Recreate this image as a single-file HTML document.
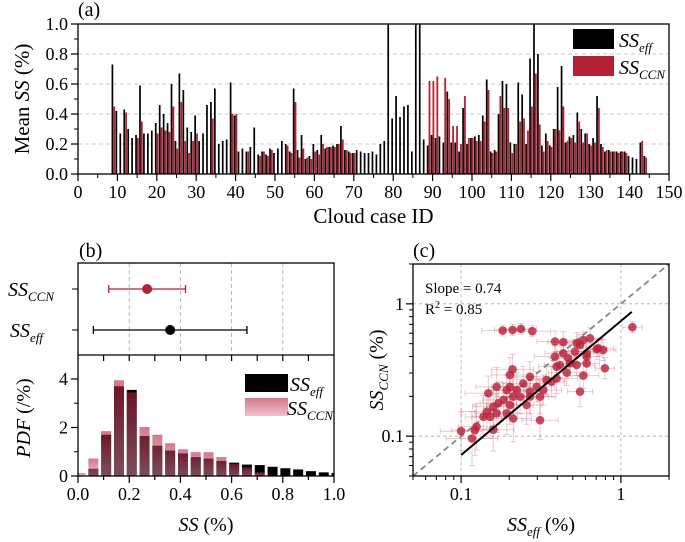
<!DOCTYPE html>
<html><head><meta charset="utf-8"><style>
html,body{margin:0;padding:0;background:#fff}
svg{display:block;font-family:"Liberation Serif",serif}
</style></head><body>
<svg id="fig" width="685" height="542" viewBox="0 0 685 542" xmlns="http://www.w3.org/2000/svg"></svg>
<script>
// ---- Panel (a) data ----
const caseIds=[9,10,11,12,13,14,15,16,17,18,19,20,21,22,23,24,25,26,27,28,29,30,31,32,33,34,35,36,37,38,39,40,41,42,43,44,45,46,47,48,49,50,51,52,53,54,55,56,57,58,59,60,61,62,63,64,65,66,67,68,69,70,71,72,73,74,75,76,77,78,79,80,81,82,83,84,85,86,87,88,89,90,91,92,93,94,95,96,97,98,99,100,101,102,103,104,105,106,107,108,109,110,111,112,113,114,115,116,117,118,119,120,121,122,123,124,125,126,127,128,129,130,131,132,133,134,135,136,137,138,139,140,141,142,143,144];
const ssEff=[0.73,0.42,0.27,0.43,0.30,0.24,0.26,0.59,0.27,0.27,0.29,0.34,0.46,0.40,0.34,0.60,0.22,0.67,0.56,0.31,0.28,0.39,0.22,0.27,0.46,0.48,0.57,0.20,0.22,0.23,0.61,0.39,0.15,0.17,0.15,0.18,0.31,0.13,0.15,0.13,0.17,0.14,0.17,0.22,0.20,0.15,0.57,0.16,0.26,0.10,0.12,0.20,0.16,0.26,0.17,0.18,0.19,0.20,0.32,0.16,0.15,0.14,0.16,0.15,0.14,0.14,0.15,0.13,0.20,0.22,1.2,0.37,0.52,0.38,0.45,0.46,0.15,1.2,1.2,0.23,0.19,0.26,0.24,0.25,0.21,0.55,0.21,0.21,0.15,0.44,0.20,0.24,0.25,0.26,0.39,0.63,0.15,0.16,0.40,0.62,0.60,0.21,0.20,0.61,0.53,0.20,0.77,1.2,0.80,0.19,0.27,0.19,0.30,0.58,0.72,0.21,0.25,0.26,0.41,0.30,0.27,0.20,0.24,0.52,0.20,0.15,0.16,0.15,0.15,0.15,0.15,0.12,0.11,0.10,0.21,0.12];
const ssCcn=[0.45,null,null,0.41,null,null,0.24,0.35,null,null,null,0.27,0.31,0.29,0.28,0.45,0.17,0.48,0.22,0.14,0.22,0.27,null,null,null,0.37,null,null,null,null,0.40,0.40,null,null,0.15,null,null,0.12,0.15,0.12,0.16,null,null,null,0.19,0.14,0.48,0.11,0.17,0.11,0.10,0.15,0.13,0.20,0.18,0.18,0.18,0.20,0.23,0.16,0.14,0.14,null,null,null,null,null,null,null,null,null,null,null,null,null,null,null,null,null,null,0.62,0.62,0.65,null,0.64,0.50,0.32,0.32,0.20,0.52,0.24,0.24,0.22,0.22,0.35,0.56,0.14,0.15,0.52,0.44,0.44,0.14,0.20,0.35,0.37,0.29,0.45,0.67,0.33,0.15,0.22,0.18,0.30,0.29,0.45,0.22,0.24,0.21,0.35,0.21,0.27,0.19,0.21,0.44,0.18,0.16,0.15,0.15,0.14,0.15,0.14,null,null,null,0.22,0.11];
const aYTicks=["0.0","0.2","0.4","0.6","0.8","1.0"];
const aXTicks=[0,10,20,30,40,50,60,70,80,90,100,110,120,130,140,150];
// ---- Panel (b) data ----
const bMeans=[0.27,0.36];
const bLow=[0.12,0.06];
const bHigh=[0.42,0.66];
const binCenters=[0.01,0.06,0.11,0.16,0.21,0.26,0.31,0.36,0.41,0.46,0.51,0.56,0.61,0.66,0.71,0.76,0.81,0.86,0.91,0.96,1.01];
const pdfEff=[0.02,0.30,1.70,3.70,3.55,1.65,1.25,1.05,0.93,0.78,0.72,0.62,0.55,0.47,0.45,0.38,0.32,0.27,0.20,0.15,0.12];
const pdfCcn=[0.12,0.72,1.85,3.95,3.45,2.02,1.70,1.35,1.10,0.98,0.98,0.78,0.50,0.35,0.15,0,0,0,0,0,0];
const bXTicks=["0.0","0.2","0.4","0.6","0.8","1.0"];
// ---- Panel (c) data ----
const cX=[0.182,0.210,0.237,0.279,1.18,0.387,0.436,0.582,0.641,0.555,0.721,0.775,0.516,0.611,0.387,0.468,0.415,0.611,0.529,0.794,0.582,0.458,0.396,0.343,0.555,0.210,0.202,0.270,0.297,0.245,0.223,0.193,0.167,0.148,0.212,0.184,0.202,0.171,0.159,0.145,0.152,0.167,0.193,0.212,0.257,0.270,0.312,0.312,0.159,0.125,0.122,0.117,0.100,0.138,0.234,0.202,0.270,0.327,0.368,0.480,0.396,0.611,0.706,0.529,0.436];
const cY=[0.628,0.635,0.647,0.621,0.666,0.519,0.513,0.533,0.549,0.489,0.461,0.448,0.436,0.423,0.399,0.388,0.345,0.355,0.345,0.326,0.287,0.302,0.273,0.266,0.217,0.320,0.290,0.281,0.236,0.250,0.223,0.223,0.236,0.211,0.199,0.188,0.172,0.177,0.167,0.153,0.140,0.149,0.149,0.136,0.172,0.199,0.199,0.132,0.112,0.118,0.111,0.096,0.109,0.140,0.199,0.236,0.217,0.223,0.258,0.355,0.335,0.399,0.454,0.504,0.423];
const cErrX=[0.35,0.3,0.25,0.3,0.15,0.3,0.25,0.3,0.2,0.35,0.25,0.2,0.3,0.25,0.35,0.3,0.25,0.2,0.3,0.15,0.25,0.3,0.35,0.3,0.2,0.35,0.3,0.25,0.3,0.35,0.4,0.3,0.35,0.4,0.3,0.35,0.4,0.3,0.35,0.45,0.3,0.35,0.4,0.3,0.25,0.3,0.25,0.3,0.35,0.3,0.4,0.45,0.35,0.3,0.25,0.3,0.25,0.3,0.2,0.25,0.3,0.2,0.15,0.25,0.3];
const cErrY=[0.1,0.1,0.1,0.1,0.1,0.2,0.2,0.15,0.2,0.2,0.15,0.2,0.2,0.25,0.2,0.2,0.25,0.2,0.2,0.2,0.25,0.25,0.3,0.3,0.3,0.3,0.35,0.3,0.3,0.35,0.35,0.3,0.4,0.35,0.4,0.35,0.4,0.45,0.4,0.35,0.45,0.4,0.45,0.5,0.4,0.35,0.35,0.4,0.45,0.5,0.55,0.6,0.4,0.45,0.35,0.3,0.3,0.3,0.3,0.25,0.3,0.2,0.2,0.2,0.25];
const fitX=[0.1,1.17];
const fitY=[0.072,0.87];

const NS="http://www.w3.org/2000/svg";
const svg=document.getElementById('fig');
function mk(tag,attrs,parent){const e=document.createElementNS(NS,tag);for(const k in attrs)e.setAttribute(k,attrs[k]);(parent||svg).appendChild(e);return e;}
function txt(s,x,y,size,anchor,parent){const t=mk('text',{x:x,y:y,'font-size':size,'text-anchor':anchor||'middle',fill:'#000'},parent);t.innerHTML=s;return t;}
const TF=18;

// ===== Panel (a) =====
const aL=78,aR=669,aT=24,aB=174;
const ax=v=>aL+(v/150)*(aR-aL);
const ay=v=>aB-(Math.min(v,1.0)/1.0)*(aB-aT);
const gA=mk('g',{});


for(let i=1;i<5;i++){const l=mk('line',{x1:aL,x2:aR,y1:ay(i*0.2),y2:ay(i*0.2),stroke:'#bbb','stroke-dasharray':'4,3','stroke-width':0.8},gA);

}
caseIds.forEach((id,i)=>{
  const v=ssEff[i];
  if(v!=null){const r=mk('rect',{x:ax(id)-1.9,y:ay(v),width:1.7,height:aB-ay(v),fill:'#000'},gA);
  
  }
  const c=ssCcn[i];
  if(c!=null){const r=mk('rect',{x:ax(id)-0.1,y:ay(c),width:1.8,height:aB-ay(c),fill:'#b22234'},gA);
  
  }
});
mk('rect',{x:aL,y:aT,width:aR-aL,height:aB-aT,fill:'none',stroke:'#000','stroke-width':1.3},gA);
aYTicks.forEach((s,i)=>{const y=ay(i*0.2);mk('line',{x1:aL-7,x2:aL,y1:y,y2:y,stroke:'#000','stroke-width':1.2},gA);
 const t=txt(s,aL-10,y+6,TF,'end',gA);
 
 });
for(let i=1;i<5;i++){mk('line',{x1:aL-4,x2:aL,y1:ay(i*0.2-0.1),y2:ay(i*0.2-0.1),stroke:'#000'},gA);}
mk('line',{x1:aL-4,x2:aL,y1:ay(0.9),y2:ay(0.9),stroke:'#000'},gA);
aXTicks.forEach(v=>{const x=ax(v);mk('line',{x1:x,x2:x,y1:aB,y2:aB+7,stroke:'#000','stroke-width':1.2},gA);
 if(v<150)mk('line',{x1:ax(v+5),x2:ax(v+5),y1:aB,y2:aB+4,stroke:'#000'},gA);
 const t=txt(String(v),x,aB+24,TF,'middle',gA);
 
 });
let t=txt('Cloud case ID',(aL+aR)/2,223,21,'middle',gA);


t=mk('text',{x:0,y:0,'font-size':21,'text-anchor':'middle',transform:'translate(29,99) rotate(-90)'},gA);
t.innerHTML='Mean <tspan font-style="italic">SS</tspan> (%)';


t=txt('(a)',78,16,20,'start',gA);


let lg=mk('g',{},gA);


mk('rect',{x:573,y:29,width:41,height:20,fill:'#000'},lg);
mk('rect',{x:573,y:56,width:41,height:20,fill:'#b22234'},lg);
t=mk('text',{x:619,y:47,'font-size':20,'font-style':'italic'},lg);t.innerHTML='SS<tspan font-size="13" dy="5">eff</tspan>';
t=mk('text',{x:619,y:74,'font-size':20,'font-style':'italic'},lg);t.innerHTML='SS<tspan font-size="13" dy="5">CCN</tspan>';

// ===== Panel (b) =====
const bL=78,bR=334,bT=263,bM=355,bB=476;
const bx=v=>bL+v*(bR-bL);
const by=v=>bB-v*((bB-379)/4);
const gB=mk('g',{});


const defs=mk('defs',{});
const gr=mk('linearGradient',{id:'pink',x1:0,y1:0,x2:0,y2:1},defs);
mk('stop',{offset:'0','stop-color':'rgb(180,30,60)','stop-opacity':0.6},gr);
mk('stop',{offset:'1','stop-color':'rgb(225,140,165)','stop-opacity':0.55},gr);
const cp=mk('clipPath',{id:'bclip'},defs);
mk('rect',{x:bL,y:bM,width:bR-bL,height:bB-bM},cp);
for(let i=1;i<5;i++){const l=mk('line',{x1:bx(i*0.2),x2:bx(i*0.2),y1:bT,y2:bM,stroke:'#aaa','stroke-dasharray':'4,3','stroke-width':0.8},gB);

}
const rowY=[289,330];const rowCol=['#b22234','#000'];
bMeans.forEach((m,i)=>{
 const y=rowY[i];
 const e=mk('g',{},gB);
 
 
 mk('line',{x1:bx(bLow[i]),x2:bx(bHigh[i]),y1:y,y2:y,stroke:rowCol[i],'stroke-width':1.3},e);
 mk('line',{x1:bx(bLow[i]),x2:bx(bLow[i]),y1:y-4,y2:y+4,stroke:rowCol[i],'stroke-width':1.3},e);
 mk('line',{x1:bx(bHigh[i]),x2:bx(bHigh[i]),y1:y-4,y2:y+4,stroke:rowCol[i],'stroke-width':1.3},e);
 mk('circle',{cx:bx(m),cy:y,r:5,fill:rowCol[i]},e);
 mk('line',{x1:bL-6,x2:bL,y1:y,y2:y,stroke:'#000'},gB);
});
t=mk('text',{x:8,y:296,'font-size':20,'font-style':'italic'},gB);t.innerHTML='SS<tspan font-size="13" dy="5">CCN</tspan>';


t=mk('text',{x:10,y:337,'font-size':20,'font-style':'italic'},gB);t.innerHTML='SS<tspan font-size="13" dy="5">eff</tspan>';


const hg=mk('g',{'clip-path':'url(#bclip)'},gB);
binCenters.forEach((c,i)=>{
 const r=mk('rect',{x:bx(c-0.0195),y:by(pdfEff[i]),width:bx(0.039)-bL,height:bB-by(pdfEff[i]),fill:'#000'},hg);
 
 
});
binCenters.forEach((c,i)=>{
 if(!pdfCcn[i])return;
 const r=mk('rect',{x:bx(c-0.0195),y:by(pdfCcn[i]),width:bx(0.039)-bL,height:bB-by(pdfCcn[i]),fill:'url(#pink)'},hg);
 
 
});
mk('rect',{x:bL,y:bT,width:bR-bL,height:bB-bT,fill:'none',stroke:'#000','stroke-width':1.3},gB);
mk('line',{x1:bL,x2:bR,y1:bM,y2:bM,stroke:'#000','stroke-width':1.3},gB);
for(let i=1;i<10;i++){const x=bx(i*0.1);mk('line',{x1:x,x2:x,y1:bM,y2:bM+6,stroke:'#000','stroke-width':1.2},gB);}
for(let i=0;i<=10;i++){const x=bx(i*0.1);mk('line',{x1:x,x2:x,y1:bB,y2:bB+(i%2?4:7),stroke:'#000','stroke-width':1.2},gB);}
bXTicks.forEach((s,i)=>{const tt=txt(s,bx(i*0.2),bB+24,TF,'middle',gB);
 
 });
[0,2,4].forEach(v=>{mk('line',{x1:bL-7,x2:bL,y1:by(v),y2:by(v),stroke:'#000','stroke-width':1.2},gB);
 const tt=txt(String(v),bL-10,by(v)+6,TF,'end',gB);
 
 });
[1,3].forEach(v=>mk('line',{x1:bL-4,x2:bL,y1:by(v),y2:by(v),stroke:'#000'},gB));
t=mk('text',{x:206,y:531,'font-size':20,'text-anchor':'middle'},gB);t.innerHTML='<tspan font-style="italic">SS</tspan> (%)';


t=mk('text',{x:0,y:0,'font-size':20,'text-anchor':'middle',transform:'translate(30,418) rotate(-90)'},gB);
t.innerHTML='<tspan font-style="italic">PDF</tspan> (/%)';


t=txt('(b)',79,257,20,'start',gB);


lg=mk('g',{},gB);


mk('rect',{x:245,y:374,width:43,height:18,fill:'#000'},lg);
mk('rect',{x:245,y:398,width:43,height:18,fill:'url(#pink)'},lg);
t=mk('text',{x:290,y:391,'font-size':20,'font-style':'italic'},lg);t.innerHTML='SS<tspan font-size="13" dy="5">eff</tspan>';
t=mk('text',{x:287,y:415,'font-size':20,'font-style':'italic'},lg);t.innerHTML='SS<tspan font-size="13" dy="5">CCN</tspan>';

// ===== Panel (c) =====
const cL=413,cR=669,cT=264,cB=476;
const lx0=Math.log10(0.05),lx1=Math.log10(2);
const cx=v=>cL+(Math.log10(v)-lx0)/(lx1-lx0)*(cR-cL);
const cy=v=>cB-(Math.log10(v)-lx0)/(lx1-lx0)*(cB-cT);
const gC=mk('g',{});


[0.1,1].forEach(v=>{
 let l=mk('line',{x1:cx(v),x2:cx(v),y1:cT,y2:cB,stroke:'#aaa','stroke-dasharray':'3,3','stroke-width':0.8},gC);
 
 
 l=mk('line',{x1:cL,x2:cR,y1:cy(v),y2:cy(v),stroke:'#aaa','stroke-dasharray':'3,3','stroke-width':0.8},gC);
 
 
});
const eg=mk('g',{stroke:'rgba(190,60,90,0.28)','stroke-width':1},gC);


cX.forEach((x,i)=>{
 const y=cY[i],fx=1+cErrX[i],fy=1+cErrY[i];
 const x1=cx(x/fx),x2=cx(x*fx),y1=cy(y/fy),y2=cy(y*fy);
 mk('line',{x1:x1,x2:x2,y1:cy(y),y2:cy(y)},eg);
 mk('line',{x1:cx(x),x2:cx(x),y1:y1,y2:y2},eg);
 mk('line',{x1:x1,x2:x1,y1:cy(y)-3,y2:cy(y)+3},eg);
 mk('line',{x1:x2,x2:x2,y1:cy(y)-3,y2:cy(y)+3},eg);
 mk('line',{x1:cx(x)-3,x2:cx(x)+3,y1:y1,y2:y1},eg);
 mk('line',{x1:cx(x)-3,x2:cx(x)+3,y1:y2,y2:y2},eg);
});
let l=mk('line',{x1:cx(0.05),y1:cy(0.05),x2:cx(2),y2:cy(2),stroke:'#888','stroke-width':1.8,'stroke-dasharray':'6,4'},gC);


cX.forEach((x,i)=>{
 const c=mk('circle',{cx:cx(x),cy:cy(cY[i]),r:4.3,fill:'rgba(185,35,60,0.82)'},gC);
 
 
});
l=mk('line',{x1:cx(fitX[0]),y1:cy(fitY[0]),x2:cx(fitX[1]),y2:cy(fitY[1]),stroke:'#000','stroke-width':2},gC);


mk('rect',{x:cL,y:cT,width:cR-cL,height:cB-cT,fill:'none',stroke:'#000','stroke-width':1.3},gC);
[0.05,0.06,0.07,0.08,0.09,0.2,0.3,0.4,0.5,0.6,0.7,0.8,0.9,2].forEach(v=>{
 mk('line',{x1:cx(v),x2:cx(v),y1:cB,y2:cB+4,stroke:'#000'},gC);
 mk('line',{x1:cL-4,x2:cL,y1:cy(v),y2:cy(v),stroke:'#000'},gC);
});
[['0.1',0.1],['1',1]].forEach(([s,v])=>{
 mk('line',{x1:cx(v),x2:cx(v),y1:cB,y2:cB+7,stroke:'#000','stroke-width':1.2},gC);
 mk('line',{x1:cL-7,x2:cL,y1:cy(v),y2:cy(v),stroke:'#000','stroke-width':1.2},gC);
 let tt=txt(s,cx(v),cB+24,TF,'middle',gC);
 
 
 tt=txt(s,cL-9,cy(v)+6,TF,'end',gC);
 
 
});
t=txt('Slope = 0.74',425,293,15,'start',gC);


t=mk('text',{x:425,y:314,'font-size':15},gC);t.innerHTML='R<tspan font-size="10" dy="-6">2</tspan><tspan dy="6"> = 0.85</tspan>';


t=mk('text',{x:541,y:531,'font-size':20,'text-anchor':'middle'},gC);t.innerHTML='<tspan font-style="italic">SS<tspan font-size="13" dy="5">eff</tspan></tspan><tspan dy="-5"> (%)</tspan>';


t=mk('text',{x:0,y:0,'font-size':20,'text-anchor':'middle',transform:'translate(383,370) rotate(-90)'},gC);
t.innerHTML='<tspan font-style="italic">SS<tspan font-size="13" dy="5">CCN</tspan></tspan><tspan dy="-5"> (%)</tspan>';


t=txt('(c)',413,257,20,'start',gC);


</script>
</body></html>
